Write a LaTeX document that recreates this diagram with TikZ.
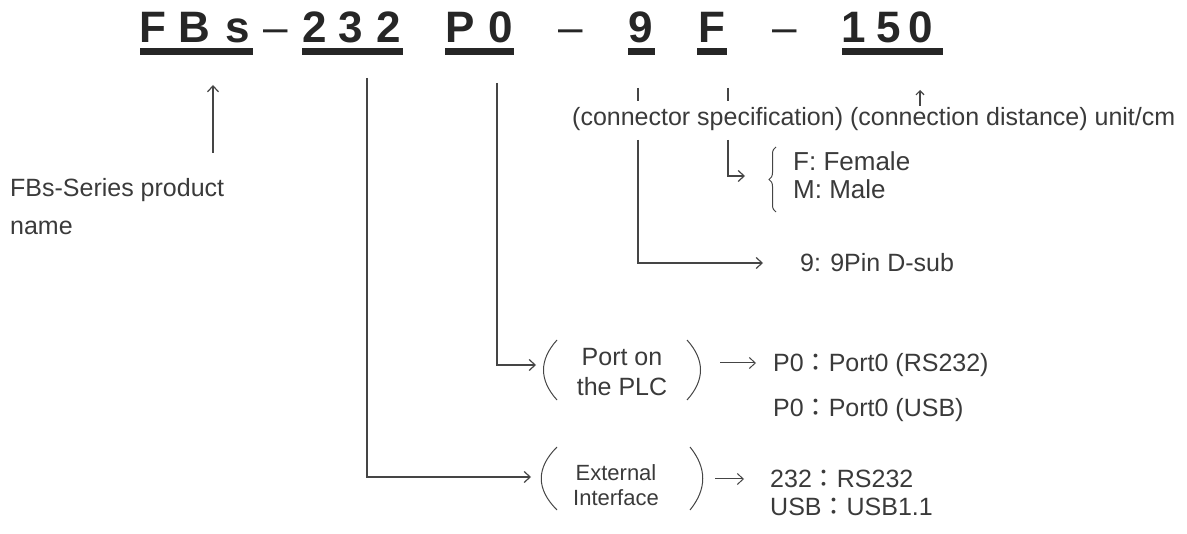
\documentclass[tikz,border=0pt]{standalone}
\usepackage{fontspec}
\setmainfont{Liberation Sans}
\newfontfamily\cjkfont{Noto Sans CJK TC}
\usetikzlibrary{arrows.meta,decorations.pathreplacing}
\definecolor{titlecol}{HTML}{262626}
\definecolor{ink}{HTML}{3A3A3A}
\definecolor{linecol}{HTML}{454545}
\newcommand{\fwc}{{\cjkfont ：}}
\tikzset{
  ttl/.style={font=\fontsize{44}{44}\selectfont\bfseries, text=titlecol, inner sep=0pt, anchor=base},
  dsh/.style={font=\fontsize{44}{44}\selectfont, text=titlecol, inner sep=0pt, anchor=base},
  uline/.style={fill=titlecol},
  lbl/.style={font=\fontsize{25}{30}\selectfont, text=ink, inner sep=0pt, anchor=base west},
  sublbl/.style={font=\fontsize{26}{29}\selectfont, text=ink, inner sep=0pt, anchor=base west},
  conn/.style={draw=linecol, line width=1.2pt},
  arr/.style={conn, -{Straight Barb[length=6pt,width=11pt]}},
  paren/.style={draw=linecol, line width=1pt},
  boxtxt/.style={font=\fontsize{25}{30}\selectfont, text=ink, inner sep=0pt, align=center},
  boxtxtsm/.style={font=\fontsize{22}{25}\selectfont, text=ink, inner sep=0pt, align=center}
}
\begin{document}
\begin{tikzpicture}[x=1pt,y=-1pt]
\useasboundingbox (0,0) rectangle (1187,534);
% ---- title ----
\node[ttl] (tF) at (153,43) {F};
\node[ttl] (tB) at (194,43) {B};
\node[ttl] (ts) at (238,43) {s};
\node[dsh] (d1) at (276,43) {–};
\node[ttl] (t2a) at (315,43) {2};
\node[ttl] (t3) at (351,43) {3};
\node[ttl] (t2b) at (389,43) {2};
\node[ttl] (tP) at (460,43) {P};
\node[ttl] (t0) at (501,43) {0};
\node[dsh] (d2) at (571,43) {–};
\node[ttl] (t9) at (641,43) {9};
\node[ttl] (tF2) at (712,43) {F};
\node[dsh] (d3) at (785,43) {–};
\node[ttl] (t1) at (854,43) {1};
\node[ttl] (t5) at (889,43) {5};
\node[ttl] (t0b) at (921,43) {0};
\fill[uline] (140,48) rectangle (253,55);
\fill[uline] (302,48) rectangle (403,55);
\fill[uline] (445,48) rectangle (514,55);
\fill[uline] (628,48) rectangle (655,55);
\fill[uline] (697,48) rectangle (727,55);
\fill[uline] (842,48) rectangle (943,55);
% ---- product name ----
\coordinate (nameArrTail) at (213,153);
\coordinate (nameArrHead) at (213,85);
\draw[arr] (nameArrTail) -- (nameArrHead);
\node[lbl, align=left] (pname) at (10,235) {FBs-Series product\\[8pt]name};
% ---- connector spec / distance ----
\coordinate (tick9a) at (638,88);
\coordinate (tick9b) at (638,101);
\coordinate (tickFa) at (728,88);
\coordinate (tickFb) at (728,101);
\draw[conn] (tick9a) -- (tick9b);
\draw[conn] (tickFa) -- (tickFb);
\coordinate (distTail) at (920,106);
\coordinate (distHead) at (920,90);
\draw[conn, -{Straight Barb[length=4pt,width=8pt]}] (distTail) -- (distHead);
\node[lbl] (spec) at (572,126) {(connector specification) (connection distance) unit/cm};
% 9pin
\coordinate (l9top) at (638,140);
\coordinate (l9end) at (763,263);
\draw[arr] (l9top) |- (l9end);
\node[lbl] (pin9) at (800,272) {9: 9Pin D-sub};
% F / M
\coordinate (lFtop) at (728,140);
\coordinate (lFend) at (745,176);
\draw[arr] (lFtop) |- (lFend);
\draw[paren, decorate, decoration={brace, amplitude=7pt}] (776,212) -- (776,147);
\node[sublbl] (fem) at (793,171) {F: Female};
\node[sublbl] (mal) at (793,199) {M: Male};
% ---- Port on the PLC ----
\coordinate (lPtop) at (497,83);
\coordinate (lPend) at (536,365);
\draw[arr] (lPtop) |- (lPend);
\draw[paren] (557,340) .. controls (539,360) and (539,380) .. (557,400);
\draw[paren] (687,340) .. controls (705,360) and (705,380) .. (687,400);
\node[boxtxt] (port) at (622,372) {Port on\\the PLC};
\coordinate (pArrA) at (720,363);
\coordinate (pArrB) at (756,363);
\draw[arr, line width=1pt] (pArrA) -- (pArrB);
\node[lbl] (p0a) at (773,372) {P0\fwc Port0 (RS232)};
\node[lbl] (p0b) at (773,417) {P0\fwc Port0 (USB)};
% ---- External Interface ----
\coordinate (lItop) at (367,78);
\coordinate (lIend) at (531,477);
\draw[arr] (lItop) |- (lIend);
\draw[paren] (557,447) .. controls (536,468) and (536,489) .. (557,510);
\draw[paren] (690,447) .. controls (707,468) and (707,489) .. (690,510);
\node[boxtxtsm] (ext) at (616,485) {External\\Interface};
\coordinate (eArrA) at (715,479);
\coordinate (eArrB) at (744,479);
\draw[arr, line width=1pt] (eArrA) -- (eArrB);
\node[lbl] (i232) at (770,488) {232\fwc RS232};
\node[lbl] (iusb) at (770,516) {USB\fwc USB1.1};
\end{tikzpicture}
\end{document}
